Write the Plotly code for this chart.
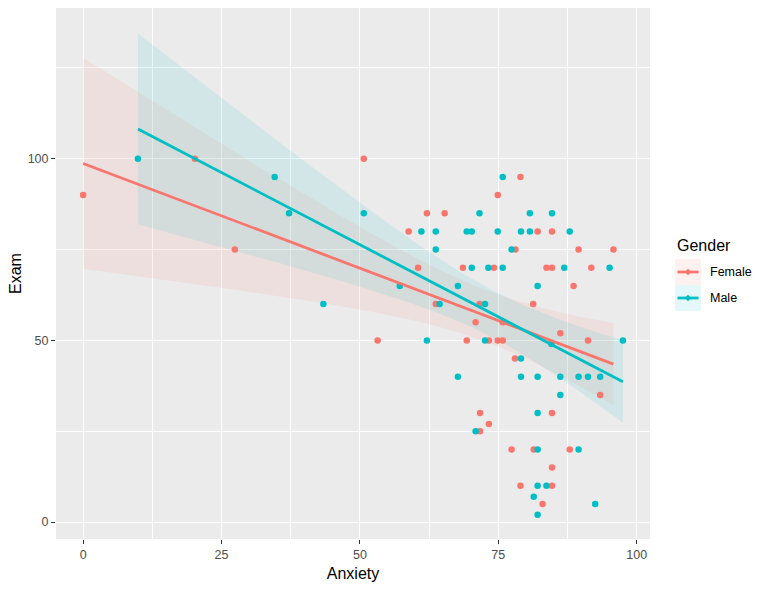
import numpy as np
import plotly.graph_objects as go

# ---- data ----
female_anxiety = [0, 20.2, 27.4, 50.7, 53.2, 58.8, 62.1, 65.3, 74.9, 79.0, 82.1, 84.7, 78.1, 89.5, 95.8,
                  60.5, 68.6, 74.2, 83.7, 84.7, 91.8, 63.7, 71.6, 81.3, 70.9, 75.8, 86.2, 88.6, 69.3, 73.3,
                  74.9, 75.8, 91.2, 78.0, 93.4, 71.7, 84.7, 73.3, 71.7, 77.4, 81.4, 87.9, 84.7, 79.0, 84.7, 83.0]
female_exam = [90, 100, 75, 100, 50, 80, 85, 85, 90, 95, 80, 80, 75, 75, 75,
               70, 70, 70, 70, 70, 70, 60, 60, 60, 55, 55, 52, 65, 50, 50,
               50, 50, 50, 45, 35, 30, 30, 27, 25, 20, 20, 20, 15, 10, 10, 5]

male_anxiety = [9.9, 34.6, 37.2, 43.4, 50.7, 57.2, 75.8, 71.6, 80.7, 84.7, 61.1, 63.7, 69.3, 70.2, 74.9,
                79.1, 80.7, 87.9, 63.7, 77.4, 70.2, 73.2, 75.8, 86.9, 95.1, 67.7, 82.1, 64.4, 72.6, 62.1,
                72.6, 97.5, 84.6, 79.1, 67.7, 79.1, 82.1, 86.2, 89.5, 91.2, 93.4, 86.2, 82.1, 70.9, 82.1,
                89.5, 82.1, 83.7, 81.4, 92.5, 82.1]
male_exam = [100, 95, 85, 60, 85, 65, 95, 85, 85, 85, 80, 80, 80, 80, 80,
             80, 80, 80, 75, 75, 70, 70, 70, 70, 70, 65, 65, 60, 60, 50,
             50, 50, 49, 45, 40, 40, 40, 40, 40, 40, 40, 35, 30, 25, 20,
             20, 10, 10, 7, 5, 2]

groups = ["Female", "Male"]
colors = {"Female": "#F8766D", "Male": "#00BFC4"}
fills = {"Female": "rgba(248,118,109,0.1)", "Male": "rgba(0,191,196,0.1)"}
x_ticks = [0, 25, 50, 75, 100]
y_ticks = [0, 50, 100]

W, H = 769, 589
L, R, T, B = 56, 119, 8, 50
PW, PH = W - L - R, H - T - B


def t975(df):
    z = 1.959963985
    return z + (z**3 + z) / (4 * df) + (5 * z**5 + 16 * z**3 + 3 * z) / (96 * df**2)


def smooth(x, y):
    x = np.asarray(x, float); y = np.asarray(y, float)
    n = len(x)
    b, a = np.polyfit(x, y, 1)
    resid = y - (a + b * x)
    s = np.sqrt(np.sum(resid**2) / (n - 2))
    xb = x.mean(); sxx = np.sum((x - xb) ** 2)
    xs = np.linspace(x.min(), x.max(), 80)
    fit = a + b * xs
    se = s * np.sqrt(1 / n + (xs - xb) ** 2 / sxx)
    t = t975(n - 2)
    return xs, fit, fit - t * se, fit + t * se


data = {"Female": (female_anxiety, female_exam), "Male": (male_anxiety, male_exam)}

fig = go.Figure()
for g in groups:
    x, y = data[g]
    xs, fit, lo, hi = smooth(x, y)
    fig.add_trace(go.Scatter(x=np.concatenate([xs, xs[::-1]]), y=np.concatenate([hi, lo[::-1]]),
                             fill="toself", fillcolor=fills[g], line=dict(width=0),
                             mode="lines", showlegend=False, hoverinfo="skip"))
for g in groups:
    x, y = data[g]
    fig.add_trace(go.Scatter(x=x, y=y, mode="markers", showlegend=False, name=g,
                             marker=dict(color=colors[g], size=6.5, symbol="circle")))
for g in groups:
    x, y = data[g]
    xs, fit, lo, hi = smooth(x, y)
    fig.add_trace(go.Scatter(x=xs, y=fit, mode="lines", name=g,
                             line=dict(color=colors[g], width=2.8), showlegend=False))


def px(xp):
    return (xp - L) / PW


def py(yp):
    return (H - B - yp) / PH


# manual legend (ggplot style)
fig.add_annotation(x=px(675), y=py(245), xref="paper", yref="paper", text="Gender",
                   showarrow=False, xanchor="left", yanchor="middle",
                   font=dict(size=16, color="black"))
for i, g in enumerate(groups):
    top = 259 + i * 26
    cy = top + 13
    fig.add_shape(type="rect", xref="paper", yref="paper",
                  x0=px(675), x1=px(701), y0=py(top + 26), y1=py(top),
                  fillcolor=fills[g], line=dict(width=0))
    fig.add_shape(type="line", xref="paper", yref="paper",
                  x0=px(677.5), x1=px(698.5), y0=py(cy), y1=py(cy),
                  line=dict(color=colors[g], width=2.8))
    d = 3.2
    fig.add_shape(type="path", xref="paper", yref="paper",
                  path=f"M {px(688 - d)} {py(cy)} L {px(688)} {py(cy - d)} L {px(688 + d)} {py(cy)} L {px(688)} {py(cy + d)} Z",
                  fillcolor=colors[g], line=dict(width=0))
    fig.add_annotation(x=px(708), y=py(cy), xref="paper", yref="paper", text=g,
                       showarrow=False, xanchor="left", yanchor="middle",
                       font=dict(size=12.5, color="black"))

fig.update_layout(
    width=W, height=H,
    margin=dict(l=L, r=R, t=T, b=B),
    paper_bgcolor="white", plot_bgcolor="#EBEBEB",
    font=dict(family="Liberation Sans, Arial, sans-serif", color="black"),
    showlegend=False,
)
fig.update_xaxes(range=[-4.9, 102.4], tickvals=x_ticks, ticktext=[str(v) for v in x_ticks],
                 showgrid=True, gridcolor="white", gridwidth=1.2, automargin=False,
                 minor=dict(tickvals=[12.5, 37.5, 62.5, 87.5], showgrid=True, gridcolor="white", gridwidth=0.6),
                 zeroline=False, ticks="outside", ticklen=4, tickcolor="#333333",
                 tickfont=dict(size=12.5, color="#4D4D4D"),
                 title=dict(text="Anxiety", font=dict(size=16), standoff=6))
fig.update_yaxes(range=[-4.65, 141.5], tickvals=y_ticks, ticktext=[str(v) for v in y_ticks],
                 showgrid=True, gridcolor="white", gridwidth=1.2, automargin=False,
                 minor=dict(tickvals=[25, 75, 125], showgrid=True, gridcolor="white", gridwidth=0.6),
                 zeroline=False, ticks="outside", ticklen=4, tickcolor="#333333",
                 tickfont=dict(size=12.5, color="#4D4D4D"),
                 title=dict(text="Exam", font=dict(size=16), standoff=2))

fig.write_html("out.html")
